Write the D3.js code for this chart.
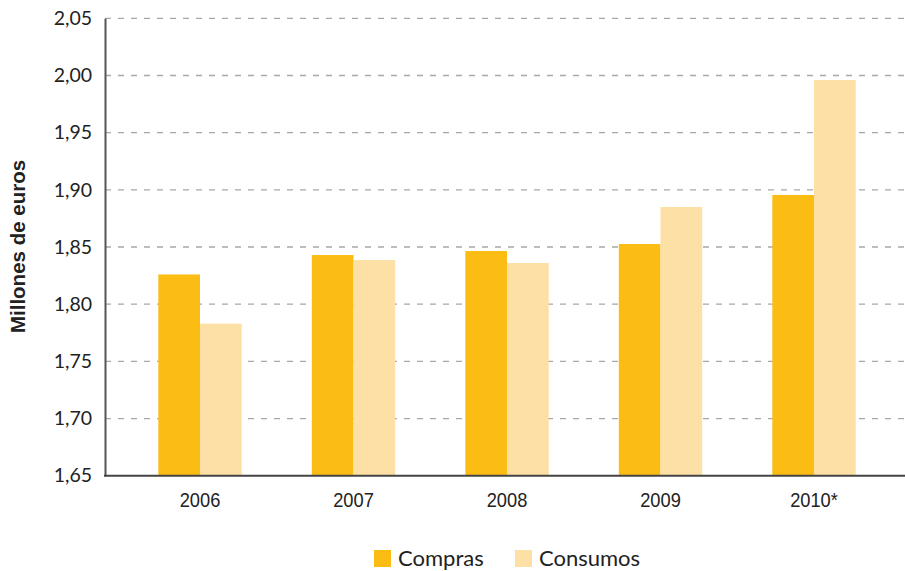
<!DOCTYPE html>
<html><head><meta charset="utf-8">
<script src="https://cdn.jsdelivr.net/npm/d3@7"></script>
<style>
body{margin:0;background:#fff;}
svg{display:block;}
</style></head>
<body>
<svg id="chart" width="905" height="571"></svg>
<script>
const years = ["2006","2007","2008","2009","2010*"];
const seriesNames = ["Compras","Consumos"];
const compras = [1.826, 1.843, 1.8465, 1.8526, 1.8955];
const consumos = [1.783, 1.8386, 1.836, 1.885, 1.996];
const yTicks = [1.65,1.70,1.75,1.80,1.85,1.90,1.95,2.00,2.05];
const colors = ["#FBBD14","#FDE0A5"];

const svg = d3.select("#chart");
const plotLeft = 105, plotRight = 905, plotTop = 18.3, plotBottom = 475.7;

const y = d3.scaleLinear().domain([1.65, 2.05]).range([plotBottom, plotTop]);
const x0 = d3.scaleBand().domain(years).range([123.25, 890.75]).padding(0);
const barW = 41.7;
const x1 = d3.scaleBand().domain(seriesNames)
  .range([x0.bandwidth()/2 - barW, x0.bandwidth()/2 + barW]).padding(0);

// grid
svg.append("g")
  .selectAll("line").data(yTicks.slice(1)).join("line")
  .attr("x1", plotLeft).attr("x2", plotRight)
  .attr("y1", d => y(d)).attr("y2", d => y(d))
  .attr("stroke", "#a8a8a8").attr("stroke-width", 1.3)
  .attr("stroke-dasharray", "6,7");

// bars
const data = years.map((yr, i) => ({year: yr, values: [compras[i], consumos[i]]}));
const groups = svg.append("g").selectAll("g").data(data).join("g")
  .attr("transform", d => `translate(${x0(d.year)},0)`);
groups.selectAll("rect").data(d => d.values.map((v, j) => ({s: seriesNames[j], v, j})))
  .join("rect")
  .attr("x", d => x1(d.s))
  .attr("width", x1.bandwidth())
  .attr("y", d => y(d.v))
  .attr("height", d => plotBottom - y(d.v))
  .attr("fill", d => colors[d.j]);

// axes
const yAxis = d3.axisLeft(y).tickValues(yTicks).tickSize(0).tickPadding(13)
  .tickFormat(d => d3.format(".2f")(d).replace(".", ","));
const gy = svg.append("g").attr("transform", `translate(${plotLeft},0)`).call(yAxis);
gy.select(".domain").attr("stroke", "#555").attr("stroke-width", 2);
gy.selectAll("text").attr("font-family", "Lato, 'Open Sans', sans-serif")
  .attr("font-size", 19.5).attr("fill", "#222");

const xAxis = d3.axisBottom(x0).tickSize(0).tickPadding(16.5);
const gx = svg.append("g").attr("transform", `translate(0,${plotBottom})`).call(xAxis);
gx.select(".domain").remove();
gx.selectAll("text").attr("font-family", "'Liberation Sans', Arial, sans-serif")
  .attr("font-size", 21).attr("fill", "#222")
  .attr("transform", "scale(0.87,1)");
svg.append("line").attr("x1", plotLeft-1).attr("x2", plotRight)
  .attr("y1", plotBottom).attr("y2", plotBottom)
  .attr("stroke", "#444").attr("stroke-width", 2);

// y title
svg.append("text")
  .attr("transform", "translate(25,246.5) rotate(-90)")
  .attr("text-anchor", "middle")
  .attr("font-family", "'Liberation Sans', Arial, sans-serif")
  .attr("font-weight", "bold").attr("font-size", 20.5).attr("fill", "#222")
  .text("Millones de euros");

// legend
const legX = [374, 515];
const leg = svg.append("g").selectAll("g").data(seriesNames).join("g")
  .attr("transform", (d, i) => `translate(${legX[i]},550)`);
leg.append("rect").attr("width", 17).attr("height", 17).attr("fill", (d, i) => colors[i]);
leg.append("text").attr("x", 24).attr("y", 15.5)
  .attr("font-family", "Lato, 'Open Sans', sans-serif").attr("font-size", 22)
  .attr("fill", "#222").text(d => d);
</script>
</body></html>
